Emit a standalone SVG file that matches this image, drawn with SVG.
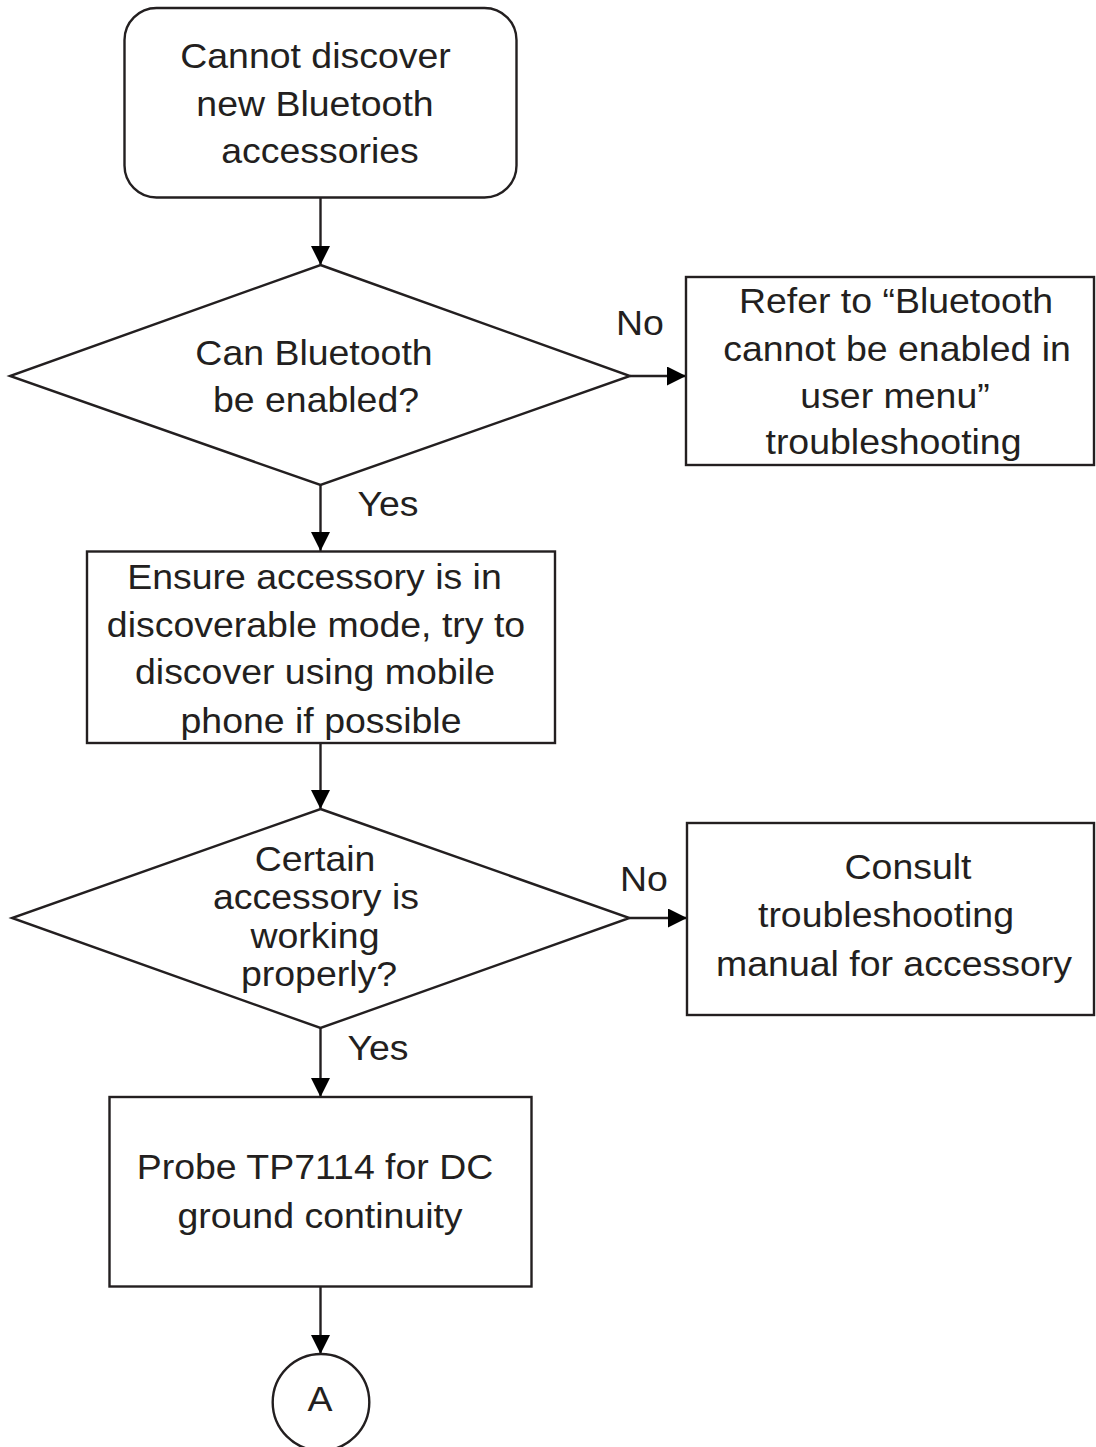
<svg xmlns="http://www.w3.org/2000/svg" width="1096" height="1447" viewBox="0 0 1096 1447">
<defs>
<style>
.shape{fill:#ffffff;stroke:#231f20;stroke-width:2.4}
.edge{fill:none;stroke:#231f20;stroke-width:2.4}
text{font-family:"Liberation Sans",Arial,Helvetica,sans-serif;font-size:35px;fill:#231f20;text-anchor:middle}
</style>
<marker id="arrow" markerUnits="userSpaceOnUse" markerWidth="20" markerHeight="20" viewBox="0 0 20 20" refX="19" refY="9.5" orient="auto">
<path d="M0,0 L19,9.5 L0,19 z" fill="#000000"/>
</marker>
</defs>
<rect width="1096" height="1447" fill="#ffffff"/>
<g id="connectors">
<line class="edge" x1="320.5" y1="197.5" x2="320.5" y2="265" marker-end="url(#arrow)"/>
<line class="edge" x1="630" y1="376" x2="686" y2="376" marker-end="url(#arrow)"/>
<line class="edge" x1="320.5" y1="485" x2="320.5" y2="551" marker-end="url(#arrow)"/>
<line class="edge" x1="320.5" y1="743" x2="320.5" y2="809" marker-end="url(#arrow)"/>
<line class="edge" x1="629.5" y1="918" x2="687" y2="918" marker-end="url(#arrow)"/>
<line class="edge" x1="320.5" y1="1028" x2="320.5" y2="1097" marker-end="url(#arrow)"/>
<line class="edge" x1="320.5" y1="1286.5" x2="320.5" y2="1354" marker-end="url(#arrow)"/>
<text transform="translate(640,335) scale(1.07,1)">No</text>
<text transform="translate(388,516) scale(1.07,1)">Yes</text>
<text transform="translate(644,891) scale(1.07,1)">No</text>
<text transform="translate(378,1060) scale(1.07,1)">Yes</text>
</g>
<g id="start">
<rect class="shape" x="124.5" y="8" width="392" height="189.5" rx="32" ry="32"/>
<text transform="translate(315.5,68) scale(1.07,1)">Cannot discover</text>
<text transform="translate(315,116) scale(1.07,1)">new Bluetooth</text>
<text transform="translate(320,163) scale(1.07,1)">accessories</text>
</g>
<g id="decision1">
<polygon class="shape" points="320.5,265 630,376 320.5,485 10,376"/>
<text transform="translate(314,365) scale(1.07,1)">Can Bluetooth</text>
<text transform="translate(316,412) scale(1.07,1)">be enabled?</text>
</g>
<g id="refer">
<rect class="shape" x="686" y="277" width="408" height="188"/>
<text transform="translate(896,313) scale(1.07,1)">Refer to “Bluetooth</text>
<text transform="translate(897,361) scale(1.07,1)">cannot be enabled in</text>
<text transform="translate(895,408) scale(1.07,1)">user menu”</text>
<text transform="translate(893.5,454) scale(1.07,1)">troubleshooting</text>
</g>
<g id="ensure">
<rect class="shape" x="87" y="551.5" width="468" height="191.5"/>
<text transform="translate(314.5,588.5) scale(1.07,1)">Ensure accessory is in</text>
<text transform="translate(316,637) scale(1.07,1)">discoverable mode, try to</text>
<text transform="translate(315,684) scale(1.07,1)">discover using mobile</text>
<text transform="translate(321,732.5) scale(1.07,1)">phone if possible</text>
</g>
<g id="decision2">
<polygon class="shape" points="320.5,809 629.5,918 320.5,1028 12,918"/>
<text transform="translate(315,871) scale(1.07,1)">Certain</text>
<text transform="translate(316,909) scale(1.07,1)">accessory is</text>
<text transform="translate(315,948) scale(1.07,1)">working</text>
<text transform="translate(319,986) scale(1.07,1)">properly?</text>
</g>
<g id="consult">
<rect class="shape" x="687" y="823" width="407" height="192"/>
<text transform="translate(908,879) scale(1.07,1)">Consult</text>
<text transform="translate(886,927) scale(1.07,1)">troubleshooting</text>
<text transform="translate(894,976) scale(1.07,1)">manual for accessory</text>
</g>
<g id="probe">
<rect class="shape" x="109.5" y="1097" width="422" height="189.5"/>
<text transform="translate(315,1179) scale(1.07,1)">Probe TP7114 for DC</text>
<text transform="translate(320,1228) scale(1.07,1)">ground continuity</text>
</g>
<g id="connectorA">
<circle class="shape" cx="321" cy="1402.3" r="48.3"/>
<text transform="translate(320,1411) scale(1.07,1)">A</text>
</g>
</svg>
